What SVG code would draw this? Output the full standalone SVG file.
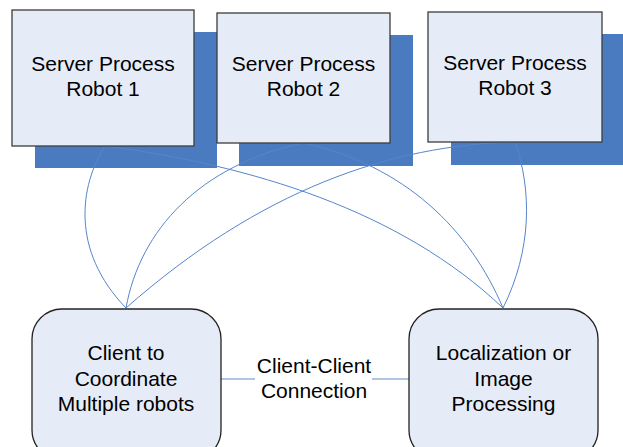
<svg xmlns="http://www.w3.org/2000/svg" width="623" height="447" viewBox="0 0 623 447">
<style>
.shadow{fill:#4a7bc1;}
.box{fill:#e6ecf7;stroke:#3c3c3c;stroke-width:1.3;}
.rbox{fill:#e6ecf7;stroke:#222;stroke-width:1.3;}
.conn{fill:none;stroke:#5585cc;stroke-width:1;}
.cc{fill:none;stroke:#95b3d7;stroke-width:1.6;}
text{font-family:"Liberation Sans",Arial,sans-serif;font-size:21px;fill:#000;text-anchor:middle;}
</style>
<rect width="623" height="447" fill="#fff"/>
<g id="shadows">
<rect class="shadow" x="35" y="32" width="182" height="136"/>
<rect class="shadow" x="239" y="35" width="174" height="131"/>
<rect class="shadow" x="451" y="34" width="174" height="131"/>
</g>
<g id="connectors">
<path class="conn" d="M105,146 C80,185 70,250 126,308"/>
<path class="conn" d="M105,146 C250,165 400,210 503,308"/>
<path class="conn" d="M303,143 C200,165 140,230 126,308"/>
<path class="conn" d="M303,143 C405,165 470,230 503,308"/>
<path class="conn" d="M515,142 C390,145 260,190 126,308"/>
<path class="conn" d="M515,142 C532,190 532,250 503,308"/>
<path class="cc" d="M221,379 H255 M372,379 H409"/>
</g>
<g id="server1">
<rect class="box" x="12" y="10" width="182" height="136"/>
<text x="103" y="71">Server Process</text>
<text x="103" y="96">Robot 1</text>
</g>
<g id="server2">
<rect class="box" x="217" y="13" width="173" height="130"/>
<text x="303.5" y="71">Server Process</text>
<text x="303.5" y="96">Robot 2</text>
</g>
<g id="server3">
<rect class="box" x="428" y="12" width="174" height="130"/>
<text x="515" y="70">Server Process</text>
<text x="515" y="95">Robot 3</text>
</g>
<g id="client">
<rect class="rbox" x="32" y="309" width="189" height="151" rx="30" ry="30"/>
<text x="126" y="360">Client to</text>
<text x="126" y="386">Coordinate</text>
<text x="126" y="411">Multiple robots</text>
</g>
<g id="localization">
<rect class="rbox" x="409" y="309" width="189" height="151" rx="30" ry="30"/>
<text x="503.5" y="360">Localization or</text>
<text x="503.5" y="386">Image</text>
<text x="503.5" y="411">Processing</text>
</g>
<g id="cc-label">
<text x="314" y="373">Client-Client</text>
<text x="314" y="398">Connection</text>
</g>
</svg>
